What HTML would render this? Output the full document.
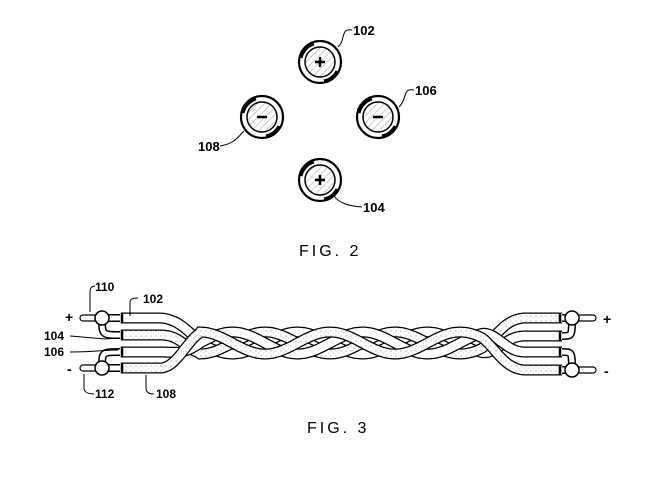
<!DOCTYPE html>
<html><head><meta charset="utf-8"><style>
html,body{margin:0;padding:0;background:#fff;}
svg{display:block;}
text{font-family:"Liberation Sans",sans-serif;fill:#000;}
</style></head><body>
<svg id="s" width="662" height="486" viewBox="0 0 662 486" xmlns="http://www.w3.org/2000/svg">
<defs>
<pattern id="h" width="5" height="5" patternUnits="userSpaceOnUse" patternTransform="rotate(45)">
<rect width="5" height="5" fill="#fff"/><line x1="0" y1="0" x2="0" y2="5" stroke="#999" stroke-width="1"/></pattern>
<pattern id="d" width="5" height="5" patternUnits="userSpaceOnUse">
<rect width="5" height="5" fill="#fff"/><circle cx="1" cy="1" r="0.6" fill="#999"/><circle cx="3.5" cy="3" r="0.5" fill="#bbb"/></pattern>
</defs>
<g id="circles"></g>
<g fill="none" stroke="#000" stroke-width="1">
<path d="M338,47 C346,40 340,28 352,30"/>
<path d="M399,107 C408,98 402,88 414,90"/>
<path d="M244,131 C236,140 232,144 220,146"/>
<path d="M334,196 C340,204 350,206 362,207"/>
</g>
<g font-size="13" font-weight="bold">
<text x="353" y="35">102</text>
<text x="415" y="95">106</text>
<text x="198" y="151">108</text>
<text x="363" y="212">104</text>
<text x="299" y="256" font-size="16" font-weight="normal" letter-spacing="3">FIG. 2</text>
<text x="307" y="433" font-size="16" font-weight="normal" letter-spacing="3">FIG. 3</text>
</g>
<g id="cable"></g>
<g font-size="12" font-weight="bold">
<text x="95" y="291">110</text><path d="M90,312 L90,292 C90,288 92,286 95,286" fill="none" stroke="#000"/>
<text x="143" y="303">102</text><path d="M130,316 L130,302 C130,299 133,298 138,298" fill="none" stroke="#000"/>
<text x="44" y="340">104</text><path d="M70,336 C100,338 100,340 118,338" fill="none" stroke="#000"/>
<text x="44" y="356">106</text><path d="M70,352 C100,352 100,350 118,350" fill="none" stroke="#000"/>
<text x="95" y="398">112</text><path d="M84,374 L84,388 C84,392 88,394 94,394" fill="none" stroke="#000"/>
<text x="156" y="398">108</text><path d="M146,375 L146,388 C146,392 149,394 154,394" fill="none" stroke="#000"/>
<text x="65" y="322" font-size="14">+</text>
<text x="67" y="374" font-size="14">-</text>
<text x="603" y="324" font-size="14">+</text>
<text x="604" y="376" font-size="14">-</text>
</g>
</svg>
<script>
var NS="http://www.w3.org/2000/svg";
function el(p,t,a){var e=document.createElementNS(NS,t);for(var k in a)e.setAttribute(k,a[k]);p.appendChild(e);return e;}
var C=document.getElementById("circles");
[[320,62,1],[262,117,0],[378,117,0],[320,180,1]].forEach(function(c){
 var x=c[0],y=c[1];
 el(C,"circle",{cx:x,cy:y,r:21,fill:"#fff",stroke:"#000","stroke-width":2.2});
 el(C,"circle",{cx:x,cy:y,r:15,fill:"url(#h)",stroke:"#000","stroke-width":1.5});
 el(C,"path",{d:"M"+(x-19)+","+(y-4)+" A19,19 0 0 1 "+(x-6)+","+(y-18),stroke:"#000","stroke-width":3,fill:"none"});
 el(C,"path",{d:"M"+(x+17)+","+(y+9)+" A19,19 0 0 1 "+(x+4)+","+(y+19),stroke:"#000","stroke-width":3,fill:"none"});
 el(C,"line",{x1:x-5,y1:y,x2:x+5,y2:y,stroke:"#000","stroke-width":2.5});
 if(c[2])el(C,"line",{x1:x,y1:y-5,x2:x,y2:y+5,stroke:"#000","stroke-width":2.5});
});
var G=document.getElementById("cable");
function sm(t){t=Math.max(0,Math.min(1,t));return t*t*(3-2*t);}
var wires=[{l:318,r:336,ph:0,f:"#fff"},{l:335,r:318,ph:Math.PI/2,f:"url(#d)"},{l:352,r:352,ph:Math.PI,f:"#fff"},{l:368,r:370,ph:3*Math.PI/2,f:"url(#d)"}];
wires.forEach(function(w){
 var pts=[];
 for(var x=122;x<=562;x+=2){
  var hy=343+11*Math.sin(2*Math.PI*(x-200)/130+w.ph);
  var y;
  if(x<200){var t=sm((x-160)/45);y=w.l*(1-t)+hy*t;}
  else if(x>480){var t=sm((x-480)/45);y=hy*(1-t)+w.r*t;}
  else y=hy;
  pts.push(x+","+y.toFixed(1));
 }
 var d="M"+pts.join(" L");
 el(G,"path",{d:d,fill:"none",stroke:"#000","stroke-width":11});
 el(G,"path",{d:d,fill:"none",stroke:w.f,"stroke-width":8.5});
 [122,560].forEach(function(x){var y=x<200?w.l:w.r;el(G,"line",{x1:x,y1:y-5.5,x2:x,y2:y+5.5,stroke:"#000","stroke-width":2.5});});
});
[[102,318,335,1],[102,368,352,1],[572,318,336,-1],[572,370,352,-1]].forEach(function(c){
 var x=c[0],y=c[1],y2=c[2],s=c[3];
 var ex=s>0?120:562;
 el(G,"path",{d:"M"+x+","+y+" C"+(x)+","+(y2)+" "+x+","+y2+" "+ex+","+y2,fill:"none",stroke:"#000","stroke-width":8});
 el(G,"path",{d:"M"+x+","+y+" C"+(x)+","+(y2)+" "+x+","+y2+" "+ex+","+y2,fill:"none",stroke:"#fff","stroke-width":5});
 el(G,"line",{x1:x,y1:y,x2:ex,y2:y,stroke:"#000","stroke-width":8});
 el(G,"line",{x1:x,y1:y,x2:ex,y2:y,stroke:"#fff","stroke-width":5});
 var px=s>0?80:596;
 el(G,"rect",{x:Math.min(px,x),y:y-3,width:Math.abs(x-px),height:6,fill:"#fff",stroke:"#000","stroke-width":1.2,rx:3});
 el(G,"circle",{cx:x,cy:y,r:7,fill:"#fff",stroke:"#000","stroke-width":1.5});
});
</script>
</body></html>
